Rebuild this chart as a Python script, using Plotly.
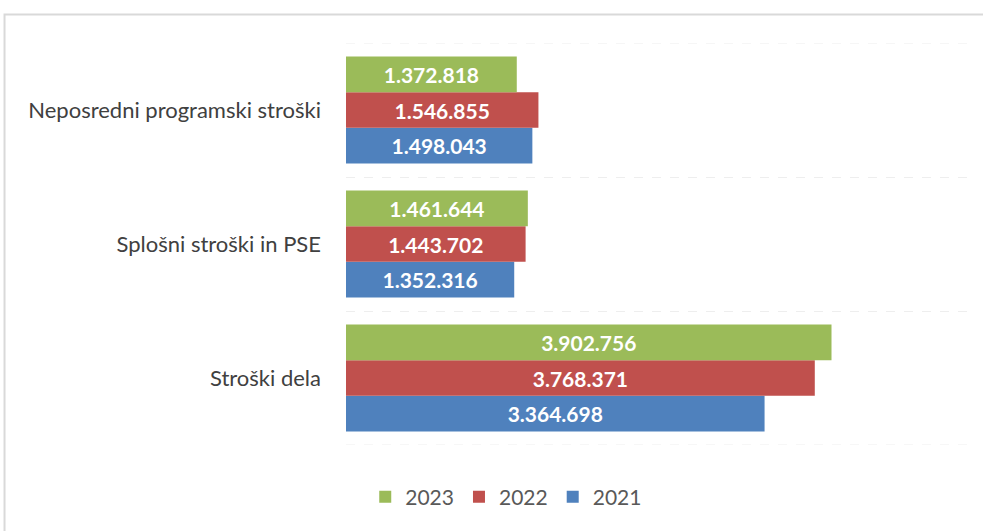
import plotly.graph_objects as go

categories = ["Stroški dela", "Splošni stroški in PSE", "Neposredni programski stroški"]
years = ["2021", "2022", "2023"]
values_2021 = [3364698, 1352316, 1498043]
values_2022 = [3768371, 1443702, 1546855]
values_2023 = [3902756, 1461644, 1372818]
colors = {"2021": "#4f81bd", "2022": "#c0504d", "2023": "#9bbb59"}

series = {"2021": values_2021, "2022": values_2022, "2023": values_2023}

fig = go.Figure()
for yr in years:
    fig.add_trace(go.Bar(
        y=categories, x=series[yr], name=yr, orientation="h",
        marker=dict(color=colors[yr], line=dict(width=0)),
        text=series[yr], texttemplate="%{x:,.0f}",
        textposition="inside", insidetextanchor="middle",
        textfont=dict(family="Lato", size=21, color="white", weight="bold"),
    ))

grid_color = "#eeeeee"
grid_shapes = [dict(type="line", xref="paper", yref="y", x0=0, x1=1, y0=b, y1=b,
                    line=dict(color=grid_color, width=1, dash="dash"), layer="below")
               for b in (-0.5, 2.5)]

fig.update_layout(
    width=983, height=531,
    barmode="group", bargap=0.2, bargroupgap=0,
    separators=",.",
    paper_bgcolor="white", plot_bgcolor="white",
    margin=dict(l=346, r=15, t=43, b=86),
    font=dict(family="Lato", color="#404040"),
    legend=dict(orientation="h", traceorder="reversed",
                x=0.515, xref="container", xanchor="center",
                y=0.064, yref="container", yanchor="middle",
                font=dict(size=21, color="#595959")),
    showlegend=True,
    xaxis=dict(range=[0, 5000000], showgrid=False, showticklabels=False,
               zeroline=False, showline=False),
    yaxis=dict(range=[-0.5, 2.5], tickson="boundaries", showgrid=True, gridcolor=grid_color,
               griddash="dash", gridwidth=1, ticks="", showline=False,
               tickfont=dict(size=22, color="#404040"),
               ticklabelstandoff=24),
    shapes=[dict(type="rect", xref="paper", yref="paper",
                 x0=-0.549, x1=1.06, y0=-0.3, y1=1.071,
                 line=dict(color="#d9d9d9", width=2), layer="below")] + grid_shapes,
)

fig.write_html("out.html", config={"displayModeBar": False},
               post_script="document.body.style.margin='0';")
